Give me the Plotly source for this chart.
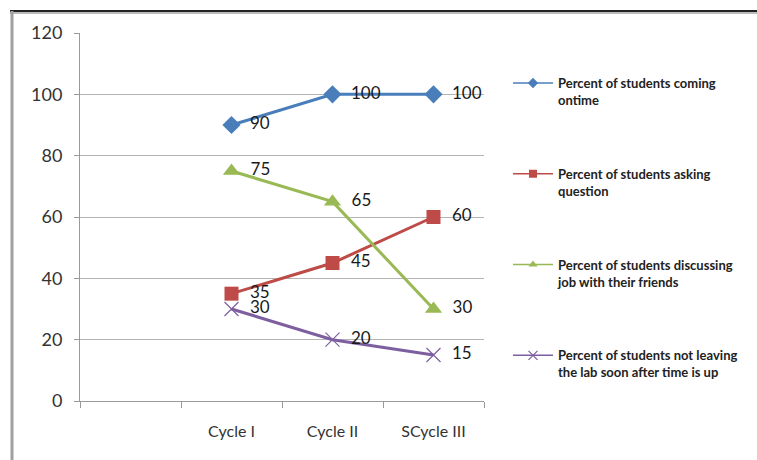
import plotly.graph_objects as go

# Categories along the x axis (first slot is an empty placeholder)
categories = [" ", "Cycle I", "Cycle II", "SCycle III"]
cycles = ["Cycle I", "Cycle II", "SCycle III"]

# Series values (percent)
coming_ontime = [90, 100, 100]
asking_question = [35, 45, 60]
discussing_job = [75, 65, 30]
not_leaving = [30, 20, 15]

series_names = [
    "Percent of students coming<br>ontime",
    "Percent of students asking<br>question",
    "Percent of students discussing<br>job with their friends",
    "Percent of students not leaving<br>the lab soon after time is up",
]

y_ticks = [0, 20, 40, 60, 80, 100, 120]

W, H = 757, 460
L, R, T, B = 80, 484, 33, 401  # plot-area pixel box
FONT = "Lato, Carlito, sans-serif"

styles = [
    dict(color="#4A7EBB", symbol="diamond", size=14, mline="#4A7EBB", mw=0, lsize=8),
    dict(color="#BE4B48", symbol="square", size=14, mline="#BE4B48", mw=0, lsize=8),
    dict(color="#98B954", symbol="triangle-up", size=15, mline="#98B954", mw=0, lsize=8),
    dict(color="#7D5FA0", symbol="x-thin-open", size=14, mline="#A796CC", mw=1.2, lsize=9),
]

fig = go.Figure()
for name, vals, st in zip(series_names,
                          [coming_ontime, asking_question, discussing_job, not_leaving],
                          styles):
    # the series itself, with its value labels to the right of each point
    fig.add_trace(go.Scatter(
        x=cycles, y=vals, name=name, showlegend=False,
        mode="lines+markers+text",
        text=[str(v) for v in vals],
        texttemplate="\u00a0\u00a0%{text}",
        textposition="middle right",
        textfont=dict(family=FONT, size=17, color="#1a1a1a"),
        line=dict(color=st["color"], width=3),
        marker=dict(symbol=st["symbol"], size=st["size"], color=st["color"],
                    line=dict(color=st["mline"], width=st["mw"])),
        hoverinfo="x+y+name",
    ))
    # slimmer legend key for the same series
    fig.add_trace(go.Scatter(
        x=[None], y=[None], name=name, legendgroup=name,
        mode="lines+markers",
        line=dict(color=st["color"], width=1.5),
        marker=dict(symbol=st["symbol"], size=st["lsize"], color=st["color"],
                    line=dict(color=st["mline"], width=st["mw"])),
    ))

def px_x(p):
    return (p - L) / (R - L)

def px_y(p):
    return (B - p) / (B - T)

fig.update_layout(
    width=W, height=H,
    margin=dict(l=L, r=W - R, t=T, b=H - B, pad=0),
    paper_bgcolor="white", plot_bgcolor="white",
    font=dict(family=FONT, color="#222"),
    xaxis=dict(
        type="category", categoryorder="array", categoryarray=categories,
        range=[-0.5, 3.5], tickson="boundaries",
        showline=True, linecolor="#9a9a9a", linewidth=1,
        ticks="outside", ticklen=6, tickcolor="#9a9a9a",
        ticklabelstandoff=16,
        showgrid=False, tickfont=dict(size=16, color="#333"),
        fixedrange=True,
    ),
    yaxis=dict(
        range=[0, 120], tickvals=y_ticks,
        showline=True, linecolor="#9a9a9a", linewidth=1,
        ticks="outside", ticklen=5, tickcolor="#9a9a9a",
        ticklabelstandoff=8,
        showgrid=True, gridcolor="#b4b4b4", gridwidth=1,
        zeroline=False, tickfont=dict(size=18, color="#333"),
        fixedrange=True,
    ),
    legend=dict(
        x=px_x(508), y=px_y(68), xanchor="left", yanchor="top",
        traceorder="grouped", tracegroupgap=54, valign="top",
        font=dict(size=13, color="#222", family=FONT, weight="bold"),
        itemwidth=40, bgcolor="rgba(0,0,0,0)",
    ),
    shapes=[
        dict(type="line", xref="paper", yref="paper",
             x0=px_x(10), x1=px_x(W + 5), y0=px_y(13), y1=px_y(13),
             line=dict(color="#bbbbbb", width=2)),
        dict(type="line", xref="paper", yref="paper",
             x0=px_x(10), x1=px_x(W + 5), y0=px_y(11), y1=px_y(11),
             line=dict(color="#222222", width=2)),
        dict(type="line", xref="paper", yref="paper",
             x0=px_x(12), x1=px_x(12), y0=px_y(11), y1=px_y(H + 5),
             line=dict(color="#a0a0a0", width=3)),
    ],
)

fig.write_html("out.html")
